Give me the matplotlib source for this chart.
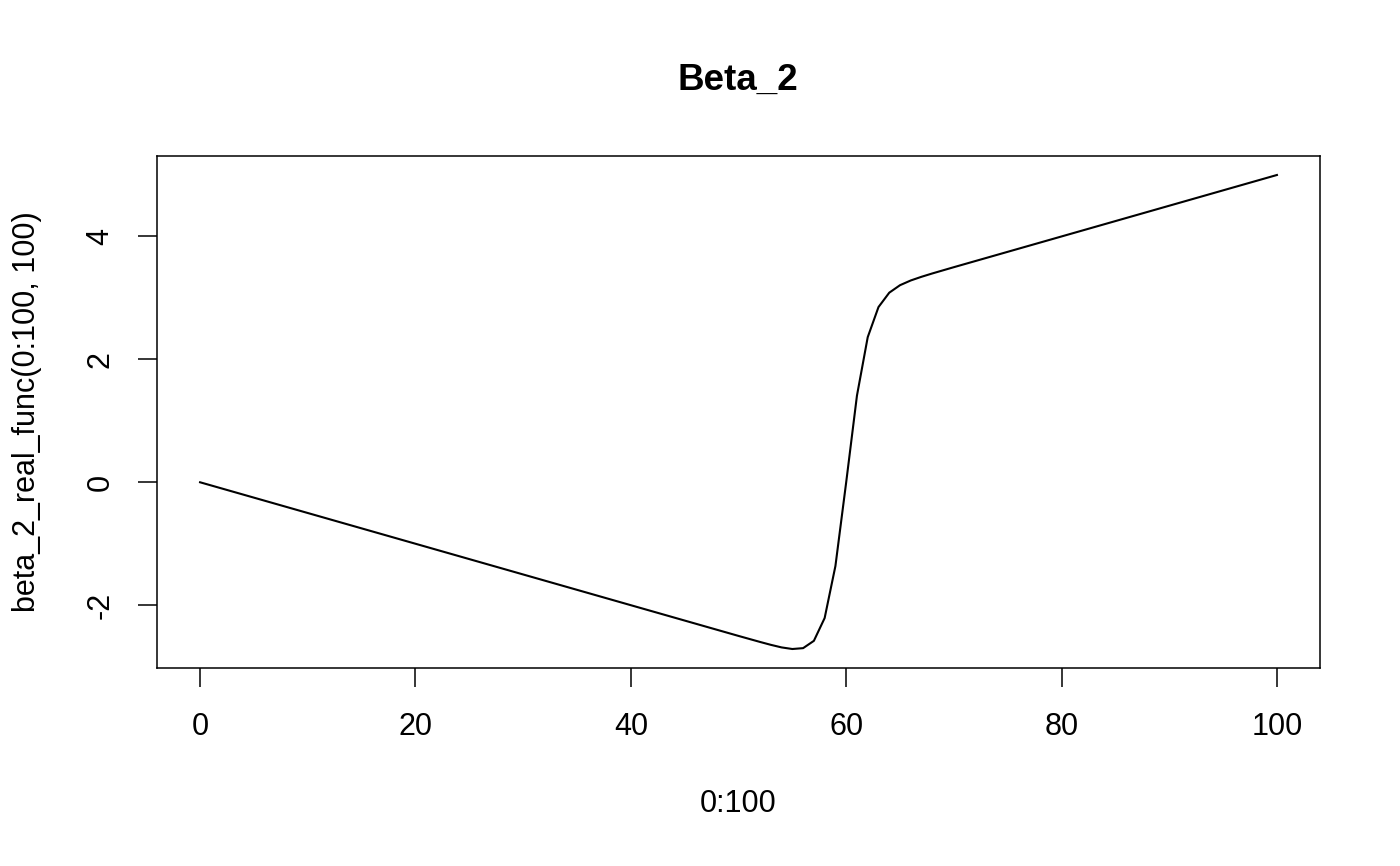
import matplotlib
matplotlib.use("Agg")
import matplotlib.pyplot as plt

plt.rcParams['font.family'] = ['Liberation Sans', 'DejaVu Sans']

# values, x = 0..100
x = list(range(0, 101))
y = [0.0, -0.05, -0.1, -0.15, -0.2, -0.25, -0.3, -0.35, -0.4, -0.45,
     -0.5, -0.55, -0.6, -0.65, -0.7, -0.75, -0.8, -0.85, -0.9, -0.95,
     -1.0, -1.05, -1.1, -1.15, -1.2, -1.25, -1.3, -1.35, -1.4, -1.45,
     -1.5, -1.55, -1.6, -1.65, -1.7, -1.75, -1.8, -1.85, -1.9, -1.95,
     -2.0, -2.05, -2.1, -2.15, -2.2, -2.25, -2.3, -2.35, -2.4, -2.45,
     -2.5, -2.549, -2.598, -2.645, -2.687, -2.713, -2.699, -2.58, -2.209, -1.363,
     0.0, 1.41, 2.361, 2.851, 3.085, 3.207, 3.284, 3.344, 3.398, 3.449,
     3.5, 3.55, 3.6, 3.65, 3.7, 3.75, 3.8, 3.85, 3.9, 3.95,
     4.0, 4.05, 4.1, 4.15, 4.2, 4.25, 4.3, 4.35, 4.4, 4.45,
     4.5, 4.55, 4.6, 4.65, 4.7, 4.75, 4.8, 4.85, 4.9, 4.95,
     5.0]
xticks = [0, 20, 40, 60, 80, 100]
yticks = [-2, 0, 2, 4]

W, H = 1400, 866
fig = plt.figure(figsize=(14, 8.66), dpi=100)
ax = fig.add_axes([157 / W, 1 - 668 / H, (1320 - 157) / W, (668 - 156) / H])

ax.plot(x, y, color="black", linewidth=1.5)

ax.set_xlim(-4, 104)
ax.set_ylim(-3.022, 5.309)
ax.set_xticks(xticks)
ax.set_yticks(yticks)
ax.set_xticklabels([str(v) for v in xticks], fontsize=22)
ax.set_yticklabels([str(v) for v in yticks], fontsize=22, rotation=90, va="center")
ax.tick_params(direction="out", length=14, width=1.1)
ax.tick_params(axis="x", pad=18)
ax.tick_params(axis="y", pad=16)
for s in ax.spines.values():
    s.set_linewidth(1.1)

fig.text(738 / W, 1 - 80 / H, "Beta_2", ha="center", va="center",
         fontsize=26.5, fontweight="bold")
fig.text(738 / W, 1 - 804 / H, "0:100", ha="center", va="center", fontsize=22)
fig.text(27 / W, 1 - 412 / H, "beta_2_real_func(0:100, 100)", ha="center",
         va="center", rotation=90, fontsize=22)

fig.savefig("out.png", dpi=100)
